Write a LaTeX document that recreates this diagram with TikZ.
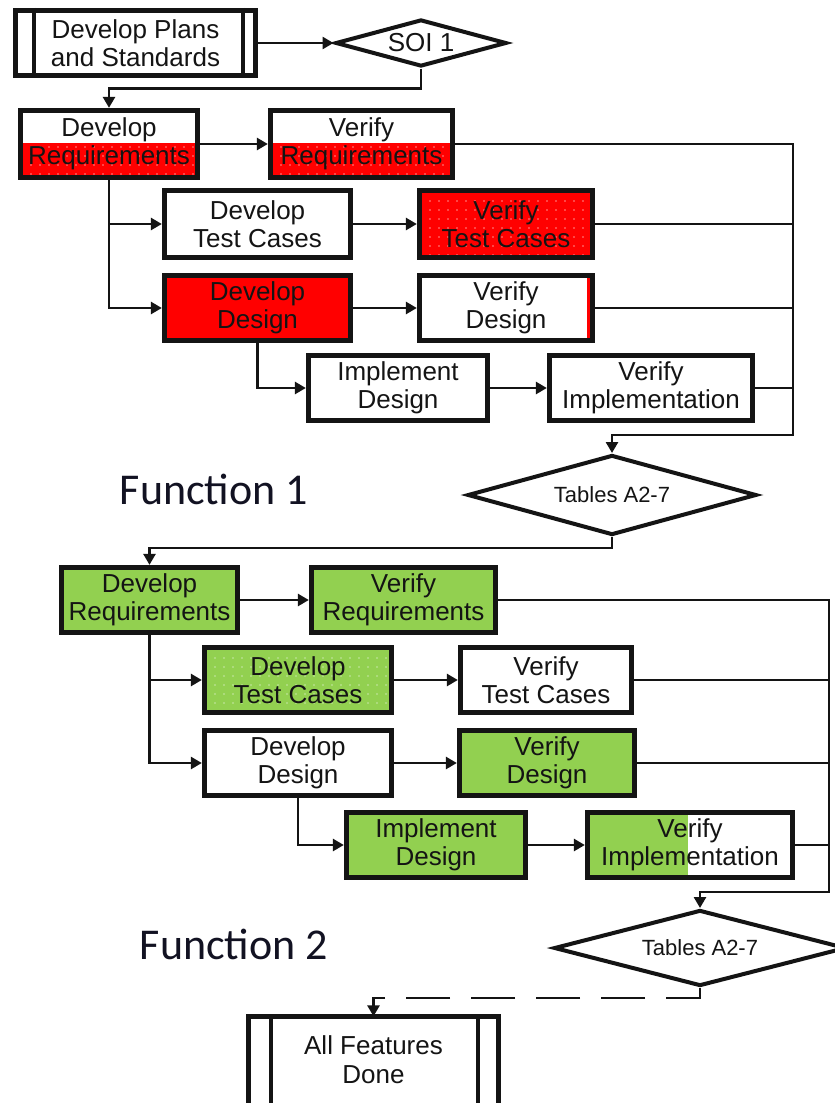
\documentclass[tikz,border=0pt]{standalone}
\usepackage{fontspec}
\setmainfont{Liberation Sans}
\newfontfamily\labelfont{Carlito}
\usetikzlibrary{arrows.meta,shapes.geometric,backgrounds}

\definecolor{reqred}{RGB}{255,0,0}
\definecolor{reqgreen}{RGB}{146,208,80}
\definecolor{inkblack}{RGB}{20,20,20}
\definecolor{headink}{RGB}{18,18,34}

\tikzset{
  stepbox/.style={draw=inkblack, line width=4.8pt, inner sep=0pt, align=center,
    text=inkblack, font=\fontsize{26}{28.5}\selectfont},
  decision/.style={draw=inkblack, diamond, line width=4pt, inner sep=0pt, aspect=3,
    text=inkblack},
  flow/.style={draw=inkblack, line width=2.6pt},
  arr/.style={flow, -{Triangle[length=11pt,width=12pt]}},
  sidebar/.style={draw=inkblack, line width=3.5pt},
  section/.style={font=\labelfont\fontsize{44}{48}\selectfont, text=headink},
}

% light dot texture inside a rectangle: x1, y1, x2, y2, colour
\newcommand{\speckle}[5]{%
  \begin{scope}
    \clip (#1,#2) rectangle (#3,#4);
    \foreach \px in {0,9,...,225} {
      \foreach \py in {0,9,...,90} {
        \fill[#5] (#1+\px+4,#2+\py+4) circle (0.9pt);
      }
    }
  \end{scope}}

\begin{document}
\begin{tikzpicture}[x=1pt,y=-1pt]
\useasboundingbox (0,0) rectangle (835,1103);

% ---------------- Function 1 ----------------
\node[stepbox, minimum width=240.5pt, minimum height=65.5pt] (plans) at (135.5,43) {Develop Plans\\and Standards};
\node[decision, font=\fontsize{26}{28}\selectfont, minimum width=171pt, minimum height=47pt] (soi) at (421,43) {SOI 1};

\node[stepbox, minimum width=177.5pt, minimum height=67.5pt] (dr1) at (109,144) {Develop\\Requirements};
\node[stepbox, minimum width=182.5pt, minimum height=67.5pt] (vr1) at (361.5,144) {Verify\\Requirements};
\node[stepbox, minimum width=186.5pt, minimum height=67.5pt] (dtc1) at (257.5,224) {Develop\\Test Cases};
\node[stepbox, minimum width=173.5pt, minimum height=67.5pt] (vtc1) at (506,224) {Verify\\Test Cases};
\node[stepbox, minimum width=186.5pt, minimum height=65.5pt] (dd1) at (257.5,308) {Develop\\Design};
\node[stepbox, minimum width=173.5pt, minimum height=65.5pt] (vd1) at (506,308) {Verify\\Design};
\node[stepbox, minimum width=179.5pt, minimum height=65.5pt] (id1) at (398,388) {Implement\\Design};
\node[stepbox, minimum width=203.5pt, minimum height=65.5pt] (vi1) at (651,388) {Verify\\Implementation};
\node[decision, font=\fontsize{22}{24}\selectfont, minimum width=289pt, minimum height=80pt] (tab1) at (612,495) {Tables A2-7};

\node[section] (fn1) at (214,489) {Function 1};

% ---------------- Function 2 ----------------
\node[stepbox, fill=reqgreen, minimum width=176.5pt, minimum height=65.5pt] (dr2) at (149.5,600) {Develop\\Requirements};
\node[stepbox, fill=reqgreen, minimum width=184.5pt, minimum height=65.5pt] (vr2) at (403.5,600) {Verify\\Requirements};
\node[stepbox, minimum width=187.5pt, minimum height=65.5pt] (dtc2) at (298,680) {Develop\\Test Cases};
\node[stepbox, minimum width=171.5pt, minimum height=65.5pt] (vtc2) at (546,680) {Verify\\Test Cases};
\node[stepbox, minimum width=187.5pt, minimum height=65.5pt] (dd2) at (298,763) {Develop\\Design};
\node[stepbox, fill=reqgreen, minimum width=175.5pt, minimum height=65.5pt] (vd2) at (547,763) {Verify\\Design};
\node[stepbox, fill=reqgreen, minimum width=179.5pt, minimum height=65.5pt] (id2) at (436,845) {Implement\\Design};
\node[stepbox, minimum width=205.5pt, minimum height=65.5pt] (vi2) at (690,845) {Verify\\Implementation};
\node[decision, font=\fontsize{22}{24}\selectfont, minimum width=292pt, minimum height=76pt] (tab2) at (700,948) {Tables A2-7};

\node[section] (fn2) at (234,944) {Function 2};

\node[stepbox, draw=none, minimum width=244.5pt, minimum height=81.5pt] (afd) at (373.5,1059.5) {All Features\\Done};

% ---------------- fills under the boxes ----------------
\begin{scope}[on background layer]
  \fill[white] (0,0) rectangle (835,1103);
  % partially and fully coloured steps
  \fill[reqred] (dr1.west |- 0,143) rectangle (dr1.south east);
  \speckle{18}{143}{200}{180}{white!55!reqred}
  \fill[reqred] (vr1.west |- 0,143) rectangle (vr1.south east);
  \speckle{268}{143}{455}{180}{white!55!reqred}
  \fill[reqred] (vtc1.north west) rectangle (vtc1.south east);
  \speckle{417}{188}{595}{260}{white!55!reqred}
  \fill[reqred] (dd1.north west) rectangle (dd1.south east);
  \fill[reqred] (587,277) rectangle (590,340);
  \fill[reqgreen] (dtc2.north west) rectangle (dtc2.south east);
  \speckle{202}{645}{394}{715}{white!50!reqgreen}
  \fill[reqgreen] (vi2.north west) rectangle (vi2.south west -| 688,0);
\end{scope}

% predefined-process side bars
\draw[sidebar] ([xshift=21pt]plans.north west) -- ([xshift=21pt]plans.south west);
\draw[sidebar] ([xshift=-15pt]plans.north east) -- ([xshift=-15pt]plans.south east);
\draw[line width=4.8pt, draw=inkblack] ([yshift=-14pt]afd.south west) -- (afd.north west) -- (afd.north east) -- ([yshift=-14pt]afd.south east);
\draw[sidebar] ([xshift=22pt]afd.north west) -- ([xshift=22pt,yshift=-14pt]afd.south west);
\draw[sidebar] ([xshift=-20pt]afd.north east) -- ([xshift=-20pt,yshift=-14pt]afd.south east);

% ---------------- connectors, Function 1 ----------------
\coordinate (bus1) at (793,435);
\draw[arr] (plans.east) -- (soi.west);
\draw[arr] (soi.south) -- ++(0,20) -| (dr1.north);
\draw[arr] (dr1.east) -- (vr1.west);
\draw[arr] (dr1.south) |- (dtc1.west);
\draw[arr] (dr1.south) |- (dd1.west);
\draw[arr] (dtc1.east) -- (vtc1.west);
\draw[arr] (dd1.east) -- (vd1.west);
\draw[arr] (dd1.south) |- (id1.west);
\draw[arr] (id1.east) -- (vi1.west);
\draw[arr] (vr1.east) -| (bus1) -| (tab1.north);
\draw[flow] (vtc1.east) -- (vtc1.east -| bus1);
\draw[flow] (vd1.east) -- (vd1.east -| bus1);
\draw[flow] (vi1.east) -- (vi1.east -| bus1);
\draw[arr] (tab1.south) -- ++(0,11) -| (dr2.north);

% ---------------- connectors, Function 2 ----------------
\coordinate (bus2) at (829,892);
\draw[arr] (dr2.east) -- (vr2.west);
\draw[arr] (dr2.south) |- (dtc2.west);
\draw[arr] (dr2.south) |- (dd2.west);
\draw[arr] (dtc2.east) -- (vtc2.west);
\draw[arr] (dd2.east) -- (vd2.west);
\draw[arr] (dd2.south) |- (id2.west);
\draw[arr] (id2.east) -- (vi2.west);
\draw[arr] (vr2.east) -| (bus2) -| (tab2.north);
\draw[flow] (vtc2.east) -- (vtc2.east -| bus2);
\draw[flow] (vd2.east) -- (vd2.east -| bus2);
\draw[flow] (vi2.east) -- (vi2.east -| bus2);
\draw[arr, dash pattern=on 44pt off 21pt] (tab2.south) -- ++(0,10) -| (afd.north);

\end{tikzpicture}
\end{document}
